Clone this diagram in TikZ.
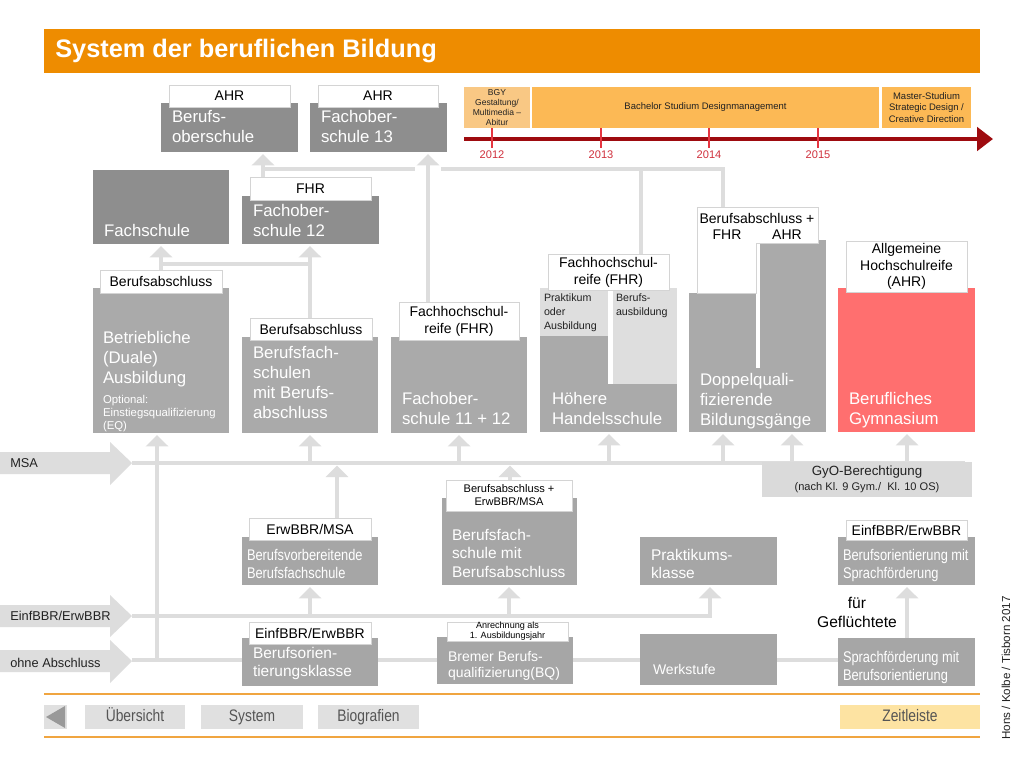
\documentclass[tikz,border=0pt]{standalone}
\usepackage{fontspec}
\setmainfont{Liberation Sans}
\newfontfamily\narrowfont[FakeStretch=0.83]{Liberation Sans}
\usetikzlibrary{arrows.meta}
\pgfdeclarelayer{back}
\pgfdeclarelayer{bg}
\pgfsetlayers{back,bg,main}
\definecolor{titleor}{HTML}{EE8C00}
\definecolor{dkbox}{HTML}{8E8E8E}
\definecolor{mdbox}{HTML}{AAAAAA}
\definecolor{lwbox}{HTML}{A6A6A6}
\definecolor{ltbox}{HTML}{DEDEDE}
\definecolor{redbox}{HTML}{FF6F6F}
\definecolor{connc}{HTML}{DDDDDD}
\definecolor{lblline}{HTML}{D4D4D4}
\definecolor{gyoc}{HTML}{DADADA}
\definecolor{bgyc}{HTML}{F9C884}
\definecolor{bachc}{HTML}{FCB955}
\definecolor{tlred}{HTML}{9E0B0F}
\definecolor{tickc}{HTML}{E53540}
\definecolor{yearc}{HTML}{D0303C}
\definecolor{footline}{HTML}{F0A540}
\definecolor{btnc}{HTML}{E0E0E0}
\definecolor{btntxt}{HTML}{555555}
\definecolor{zeitc}{HTML}{FDE3A2}
\definecolor{dtxt}{HTML}{222222}

\newcommand\bx[6]{\node[boxst,fill=#6,minimum width={(#4-#2)*0.75pt},minimum height={(#5-#3)*0.75pt}] (#1) at ({(#2+#4)/2},{(#3+#5)/2}) {};}
\newcommand\lb[7]{\node[lblst,minimum width={(#4-#2)*0.75pt},minimum height={(#5-#3)*0.75pt},font=#6] (#1) at ({(#2+#4)/2},{(#3+#5)/2}) {#7};}
\newcommand\tx[5]{\node[txtst,font=#4] (#1) at (#2,#3) {#5};}
\newcommand\fBig{\fontsize{12.6}{15}\selectfont}
\newcommand\fLbl{\fontsize{10.5}{12.6}\selectfont}
\newcommand\fSm{\fontsize{8.3}{9.8}\selectfont}
\newcommand\fTiny{\fontsize{6.8}{7.6}\selectfont}
\newcommand\fNar{\narrowfont\fontsize{11.6}{13.6}\selectfont}
\newcommand\fMid{\fontsize{11.6}{13.9}\selectfont}
\newcommand\fBtn{\narrowfont\fontsize{12.5}{14}\selectfont}

\begin{document}
\begin{tikzpicture}[x=0.75pt,y=-0.75pt,
  boxst/.style={draw=none,inner sep=0pt,outer sep=0pt},
  lblst/.style={fill=white,draw=lblline,line width=0.5pt,inner sep=0pt,outer sep=0pt,align=center,text=black},
  txtst/.style={anchor=north west,inner sep=0pt,outer sep=0pt,align=left,text=white},
  conn/.style={draw=connc,line width=3.4pt,line join=miter},
  arr/.style={-{Triangle[width=16.5pt,length=8.5pt]},shorten >=1.5pt},
  bigarrow/.style={fill=connc,draw=none},
  arrtxt/.style={anchor=west,inner sep=0pt,font=\fontsize{9.6}{11}\selectfont,text=dtxt},
  tltxt/.style={align=center,inner sep=0pt,text=dtxt},
  btnst/.style={fill=btnc,inner sep=0pt,font=\fBtn,text=btntxt,text height=9pt,text depth=2.5pt}]
\useasboundingbox (0,0) rectangle (1024,768);
\begin{pgfonlayer}{back}
\fill[white] (0,0) rectangle (1024,768);
\end{pgfonlayer}

% title
\bx{titlebar}{44}{29}{980}{73}{titleor}
\node[anchor=west,inner sep=0pt,text=white,font=\bfseries\fontsize{19}{21}\selectfont] (title) at (55,51) {System der beruflichen Bildung};

% timeline
\node[boxst,fill=bgyc,minimum width={66*0.75pt},minimum height={41*0.75pt},tltxt,font=\fontsize{6.4}{7.5}\selectfont] (tBGY) at (497,107.5) {BGY\\Gestaltung/\\Multimedia --\\Abitur};
\node[boxst,fill=bachc,minimum width={347*0.75pt},minimum height={41*0.75pt},tltxt,font=\fontsize{7.1}{8.6}\selectfont] (tBach) at (705.5,107.5) {Bachelor Studium Designmanagement};
\node[boxst,fill=bachc,minimum width={89*0.75pt},minimum height={41*0.75pt},tltxt,font=\fontsize{7.1}{8.6}\selectfont] (tMast) at (926.5,107.5) {Master-Studium\\Strategic Design /\\Creative Direction};
\coordinate (tlStart) at (464,139);
\coordinate (tlEnd) at (993,139);
\draw[draw=tlred,line width=3.4pt,-{Triangle[width=17.5pt,length=12pt]}] (tlStart) -- (tlEnd);
\foreach \yx/\yy in {492/2012,601/2013,709/2014,818/2015}{
  \draw[draw=tickc,line width=1.3pt] (\yx,128) -- (\yx,148);
  \node[inner sep=0pt,text=yearc,font=\fSm] (y\yy) at (\yx,155) {\yy};
}

% top rows
\bx{bos}{161}{103}{298}{152}{dkbox}
\bx{fos13}{310}{103}{447}{152}{dkbox}
\bx{fachsch}{93}{170}{229}{244}{dkbox}
\bx{fos12}{242}{196}{379}{244}{dkbox}
\lb{lbBos}{169}{85}{290}{107}{\fLbl}{AHR}
\lb{lbFos13}{318}{85}{438}{107}{\fLbl}{AHR}
\lb{lbFos12}{250}{177}{371}{200}{\fLbl}{FHR}
\tx{tBos}{172}{110}{\fBig}{Berufs-\\oberschule}
\tx{tFos13}{321}{110}{\fBig}{Fachober-\\schule 13}
\tx{tFach}{104}{224}{\fBig}{Fachschule}
\tx{tFos12}{253}{204}{\fBig}{Fachober-\\schule 12}

% middle row
\bx{betr}{93}{288}{229}{433}{mdbox}
\bx{bfs}{242}{337}{378}{433}{mdbox}
\bx{fos11}{391}{337}{527}{433}{mdbox}
\bx{hhs}{540}{288}{677}{432}{mdbox}
\bx{hhsA}{540}{288}{608}{336}{ltbox}
\bx{hhsGap}{608}{288}{613}{384}{white}
\bx{hhsB}{613}{288}{677}{384}{ltbox}
\bx{dqL}{689}{293}{756}{432}{mdbox}
\bx{dqR}{760}{240}{826}{432}{mdbox}
\bx{dqB}{689}{368}{826}{432}{mdbox}
\bx{bgym}{838}{288}{975}{432}{redbox}
\lb{lbBetr}{100}{270}{222}{293}{\fLbl}{Berufsabschluss}
\lb{lbBfs}{250}{318}{372}{340}{\fLbl}{Berufsabschluss}
\lb{lbFos11}{399}{302}{519}{340}{\fLbl}{Fachhochschul-\\reife (FHR)}
\lb{lbHhs}{548}{254}{669}{290}{\fLbl}{Fachhochschul-\\reife (FHR)}
\lb{lbBg}{846}{241}{967}{292}{\fLbl}{Allgemeine\\Hochschulreife\\(AHR)}
\filldraw[fill=white,draw=lblline,line width=0.5pt] (697,207) -- (818,207) -- (818,243) -- (756,243) -- (756,293) -- (697,293) -- cycle;
\coordinate (dqTop) at (723,207);
\node[inner sep=0pt,font=\fLbl] (lbDq) at (757,218) {Berufsabschluss +};
\node[inner sep=0pt,font=\fLbl] (lbDqF) at (727,235) {FHR};
\node[inner sep=0pt,font=\fLbl] (lbDqA) at (787,235) {AHR};
\tx{tBetr}{103}{331}{\fBig}{Betriebliche\\(Duale)\\Ausbildung}
\tx{tBetr2}{103}{395}{\fontsize{8.5}{9.8}\selectfont}{Optional:\\Einstiegsqualifizierung\\(EQ)}
\tx{tBfs}{253}{346}{\fBig}{Berufsfach-\\schulen\\mit Berufs-\\abschluss}
\tx{tFos11}{402}{392}{\fBig}{Fachober-\\schule 11 + 12}
\tx{tHhs}{552}{392}{\fBig}{Höhere\\Handelsschule}
\node[txtst,text=dtxt,font=\fontsize{8}{10.4}\selectfont] (tHhsA) at (544,294) {Praktikum\\oder\\Ausbildung};
\node[txtst,text=dtxt,font=\fontsize{8}{10.4}\selectfont] (tHhsB) at (616,294) {Berufs-\\ausbildung};
\tx{tDq}{700}{373}{\fBig}{Doppelquali-\\fizierende\\Bildungsgänge}
\tx{tBg}{849}{392}{\fBig}{Berufliches\\Gymnasium}

% left arrows
\fill[bigarrow] (0,452) -- (110,452) -- (110,442) -- (132,463) -- (110,485) -- (110,474) -- (0,474) -- cycle;
\fill[bigarrow] (0,605) -- (110,605) -- (110,595) -- (132,616) -- (110,637) -- (110,627) -- (0,627) -- cycle;
\fill[bigarrow] (0,650) -- (110,650) -- (110,640) -- (132,661) -- (110,683) -- (110,672) -- (0,672) -- cycle;
\coordinate (msaTip) at (132,463);
\coordinate (einTip) at (132,616);
\coordinate (ohneTip) at (132,660);
\node[arrtxt] (aMsa) at (10,463) {MSA};
\node[arrtxt] (aEin) at (10,616) {EinfBBR/ErwBBR};
\node[arrtxt] (aOhne) at (10,663) {ohne Abschluss};

% GyO
\node[boxst,fill=gyoc,minimum width={210*0.75pt},minimum height={35*0.75pt},align=center,text=dtxt,font=\fontsize{10}{12}\selectfont] (gyo) at (867,479.5) {GyO-Berechtigung\\[-1pt]{\fontsize{8.3}{10}\selectfont (nach Kl. 9 Gym./\ \ Kl. 10 OS)}};

% bottom rows
\bx{bvb}{242}{537}{378}{585}{lwbox}
\bx{bfs2}{442}{498}{577}{585}{lwbox}
\bx{prak}{640}{537}{777}{585}{lwbox}
\bx{bosp}{838}{537}{975}{585}{lwbox}
\bx{bok}{242}{638}{378}{686}{lwbox}
\bx{bbq}{437}{637}{573}{684}{lwbox}
\bx{werk}{640}{634}{777}{685}{lwbox}
\bx{spr}{838}{638}{975}{686}{lwbox}
\lb{lbBvb}{249}{518}{371}{540}{\fLbl}{ErwBBR/MSA}
\lb{lbBfs2}{446}{480}{572}{511}{\fSm}{Berufsabschluss +\\ErwBBR/MSA}
\lb{lbBosp}{846}{520}{967}{540}{\fLbl}{EinfBBR/ErwBBR}
\lb{lbBok}{249}{622}{371}{644}{\fLbl}{EinfBBR/ErwBBR}
\lb{lbBbq}{447}{622}{568}{641}{\fTiny}{Anrechnung als\\1. Ausbildungsjahr}
\tx{tBvb}{247}{549}{\fNar}{Berufsvorbereitende\\Berufsfachschule}
\tx{tBfs2}{452}{529}{\fMid}{Berufsfach-\\schule mit\\Berufsabschluss}
\tx{tPrak}{651}{549}{\fMid}{Praktikums-\\klasse}
\tx{tBosp}{843}{549}{\fNar}{Berufsorientierung mit\\Sprachförderung}
\tx{tBok}{253}{647}{\fMid}{Berufsorien-\\tierungsklasse}
\tx{tBbq}{448}{651}{\fontsize{10.5}{12}\selectfont}{Bremer Berufs-\\qualifizierung(BQ)}
\tx{tWerk}{653}{664}{\fontsize{10.5}{12}\selectfont}{Werkstufe}
\tx{tSpr}{843}{651}{\fNar}{Sprachförderung mit\\Berufsorientierung}
\node[align=center,inner sep=0pt,text=black,font=\fontsize{11.7}{14.2}\selectfont] (fluecht) at (857,612) {für\\Geflüchtete};

% footer
\coordinate (fl1a) at (44,694); \coordinate (fl1b) at (980,694);
\coordinate (fl2a) at (44,737); \coordinate (fl2b) at (980,737);
\draw[draw=footline,line width=1.5pt] (fl1a) -- (fl1b);
\draw[draw=footline,line width=1.5pt] (fl2a) -- (fl2b);
\node[btnst,minimum width={23*0.75pt},minimum height={24*0.75pt}] (bBack) at (55.5,717) {};
\fill[fill=black!40] (46,717) -- (65,706) -- (65,728) -- cycle;
\node[btnst,minimum width={100*0.75pt},minimum height={24*0.75pt}] (bUeb) at (135,717) {Übersicht};
\node[btnst,minimum width={102*0.75pt},minimum height={24*0.75pt}] (bSys) at (252,717) {System};
\node[btnst,minimum width={101*0.75pt},minimum height={24*0.75pt}] (bBio) at (368.5,717) {Biografien};
\node[btnst,fill=zeitc,minimum width={140*0.75pt},minimum height={24*0.75pt}] (bZeit) at (910,717) {Zeitleiste};
\node[rotate=90,inner sep=0pt,text=dtxt,font=\fontsize{8.7}{10}\selectfont] (credit) at (1006,668) {Hons / Kolbe / Tisborn 2017};

% connectors
\coordinate (xA) at (161,264);
\coordinate (xB) at (310,264);
\coordinate (xC) at (263,169);
\coordinate (jD) at (415,169);
\coordinate (jE) at (441,169);
\coordinate (jG) at (641,169);
\coordinate (jF) at (723,169);
\coordinate (xD) at (428,169);
\coordinate (m1) at (310,463);
\coordinate (m2) at (459,463);
\coordinate (m3) at (609,463);
\coordinate (m4) at (723,463);
\coordinate (m5) at (792,463);
\coordinate (m6) at (907,463);
\coordinate (msaEnd) at (965,463);
\coordinate (v157) at (157,660);
\coordinate (u1) at (337,463);
\coordinate (u2) at (510,463);
\coordinate (e1) at (310,616);
\coordinate (e2) at (509,616);
\coordinate (e4) at (710,616);
\coordinate (s1) at (907,660);
\begin{pgfonlayer}{bg}
\draw[conn,arr] (lbBetr.north -| xA) -- (fachsch.south -| xA);
\draw[conn] (xA) -- (xB);
\draw[conn,arr] (lbBfs.north -| xB) -- (fos12.south -| xB);
\draw[conn,arr] (lbFos12.north -| xC) -- (bos.south -| xC);
\draw[conn] (xC) -- (jD);
\draw[conn] (jE) -- (jF) -- (dqTop);
\draw[conn] (jG) -- (lbHhs.north -| jG);
\draw[conn,arr] (lbFos11.north -| xD) -- (fos13.south -| xD);
\draw[conn] (msaTip) -- (msaEnd);
\foreach \m/\n in {m1/bfs,m2/fos11,m3/hhs,m4/dqB,m5/dqB,m6/bgym}
  \draw[conn,arr] (\m) -- (\n.south -| \m);
\draw[conn,arr] (v157) -- (betr.south -| v157);
\draw[conn,arr,shorten >=2pt] (lbBvb.north -| u1) -- (u1);
\draw[conn,arr,shorten >=2pt] (lbBfs2.north -| u2) -- (u2);
\draw[conn,arr] (einTip) -- (e4) -- (prak.south -| e4);
\draw[conn,arr] (e1) -- (bvb.south -| e1);
\draw[conn,arr] (e2) -- (bfs2.south -| e2);
\draw[conn] (ohneTip) -- (spr.west |- ohneTip);
\draw[conn,arr] (spr.north -| s1) -- (bosp.south -| s1);
\end{pgfonlayer}
\end{tikzpicture}
\end{document}
